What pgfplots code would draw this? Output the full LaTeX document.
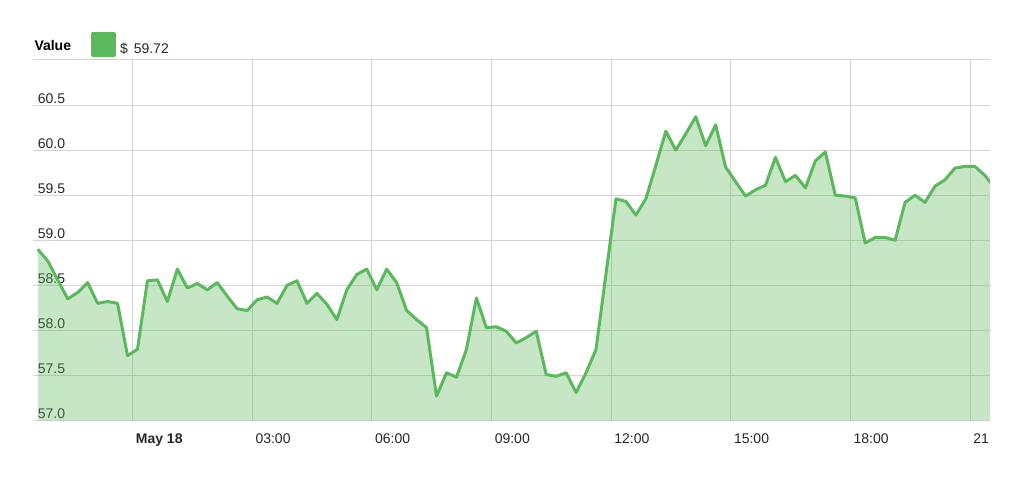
\documentclass[border=0pt]{standalone}
\usepackage{fontspec}
\setmainfont{Liberation Sans}
\usepackage{pgfplots}
\usepackage{pgfplotstable}
\pgfplotsset{compat=1.18}
\definecolor{lineG}{RGB}{92,184,92}
\definecolor{gridG}{RGB}{212,212,212}
\pgfplotstableread{
x y
-2.38 58.90
-2.13 58.77
-1.88 58.56
-1.63 58.35
-1.38 58.42
-1.13 58.53
-0.88 58.30
-0.63 58.32
-0.38 58.30
-0.13 57.72
0.12 57.79
0.37 58.55
0.62 58.56
0.87 58.32
1.12 58.68
1.37 58.47
1.62 58.52
1.87 58.45
2.12 58.53
2.37 58.38
2.62 58.24
2.87 58.22
3.12 58.34
3.37 58.37
3.62 58.30
3.87 58.50
4.12 58.55
4.37 58.30
4.62 58.41
4.87 58.29
5.12 58.12
5.37 58.45
5.62 58.62
5.87 58.68
6.12 58.45
6.37 58.68
6.62 58.53
6.87 58.22
7.12 58.12
7.37 58.03
7.62 57.27
7.87 57.53
8.12 57.48
8.37 57.79
8.62 58.36
8.87 58.03
9.12 58.04
9.37 57.99
9.62 57.86
9.87 57.92
10.12 57.99
10.37 57.51
10.62 57.49
10.87 57.53
11.12 57.31
11.37 57.53
11.62 57.79
11.87 58.63
12.12 59.46
12.37 59.43
12.62 59.28
12.87 59.46
13.12 59.83
13.37 60.21
13.62 60.00
13.87 60.18
14.12 60.37
14.37 60.05
14.62 60.28
14.87 59.81
15.12 59.65
15.37 59.49
15.62 59.56
15.87 59.61
16.12 59.92
16.37 59.65
16.62 59.72
16.87 59.58
17.12 59.88
17.37 59.98
17.62 59.50
17.87 59.49
18.12 59.47
18.37 58.97
18.62 59.03
18.87 59.03
19.12 59.00
19.37 59.42
19.62 59.50
19.87 59.42
20.12 59.60
20.37 59.67
20.62 59.80
20.87 59.82
21.12 59.82
21.37 59.72
21.62 59.58
}\datatable
\begin{document}
\begin{tikzpicture}
\useasboundingbox (0,0) rectangle (1024pt,481pt);
\begin{axis}[
  at={(33pt,60.5pt)}, anchor=south west,
  scale only axis, width=957pt, height=360.5pt,
  xmin=-2.5, xmax=21.5, ymin=57, ymax=61,
  axis line style={draw=none},
  major tick length=0pt,
  xtick={0,3,6,9,12,15,18,21},
  xticklabels={\textbf{May 18},03:00,06:00,09:00,12:00,15:00,18:00,21},
  ytick={57,57.5,58,58.5,59,59.5,60,60.5,61},
  yticklabels={57.0,57.5,58.0,58.5,59.0,59.5,60.0,60.5,{}},
  grid=major,
  major grid style={draw=gridG, line width=1pt},
  tick label style={font=\fontsize{14}{16}\selectfont, text=black!85},
  xticklabel style={anchor=base west, inner sep=0pt, xshift=3pt, yshift=-23.5pt},
  yticklabel style={anchor=base west, inner sep=0pt, xshift=4.7pt, yshift=2pt},
  legend style={draw=none, fill=none, at={(axis description cs:0,1)}, anchor=west,
    xshift=58pt, yshift=14pt, inner sep=0pt, outer sep=0pt,
    nodes={inner sep=0pt, font=\fontsize{14}{16}\selectfont, text=black!85}},
  legend image code/.code={\fill[lineG, fill opacity=1] (0pt,-4.7pt) rectangle (22pt,17.3pt);},
]
\addplot[draw=none, fill=lineG, fill opacity=0.35, forget plot] table {\datatable} \closedcycle;
\addplot[lineG, line width=3pt, line join=round] table {\datatable};
\addlegendentry{\raisebox{5pt}{\hspace*{4pt}\$\hspace{6pt}59.72}}
\end{axis}
\node[anchor=base west, inner sep=0pt, font=\fontsize{14}{16}\selectfont\bfseries] at (34.3pt,430.3pt) {Value};
\end{tikzpicture}
\end{document}
